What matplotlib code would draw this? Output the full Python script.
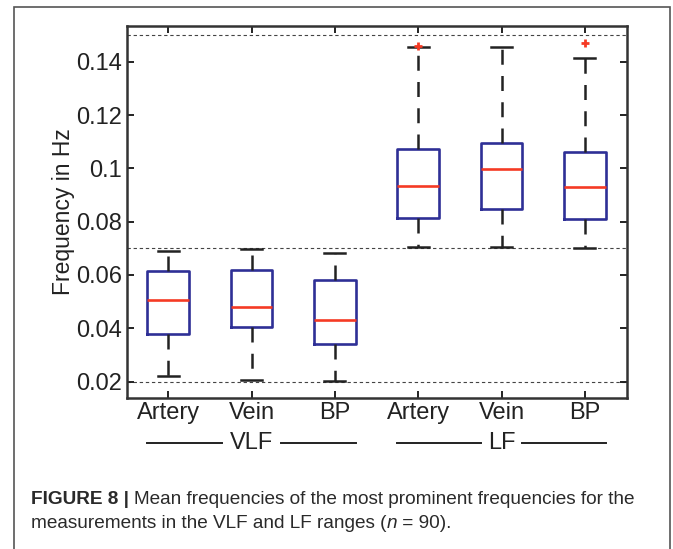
import matplotlib
matplotlib.use("Agg")
import matplotlib.pyplot as plt
import matplotlib.transforms as mtransforms
from matplotlib.patches import Rectangle

# values
labels = ['Artery', 'Vein', 'BP', 'Artery', 'Vein', 'BP']
groups = ['VLF', 'LF']
q1 = [0.0378, 0.0406, 0.0339, 0.0814, 0.0846, 0.0810]
med = [0.0505, 0.0481, 0.0429, 0.0934, 0.0999, 0.0931]
q3 = [0.0616, 0.0620, 0.0580, 0.1073, 0.1094, 0.1061]
whislo = [0.0221, 0.0206, 0.0201, 0.0706, 0.0706, 0.0700]
whishi = [0.0691, 0.0698, 0.0683, 0.1454, 0.1456, 0.1413]
fliers = [[], [], [], [0.1459], [], [0.1469]]
bands = [0.02, 0.07, 0.15]

plt.rcParams['font.family'] = ['Liberation Sans', 'DejaVu Sans']

fig = plt.figure(figsize=(6.73, 5.49), dpi=100)
ax = fig.add_axes([0.188, 0.275, 0.743, 0.6775])

stats = []
for i in range(len(labels)):
    stats.append(dict(med=med[i], q1=q1[i], q3=q3[i], whislo=whislo[i],
                      whishi=whishi[i], fliers=fliers[i], label=labels[i]))

pos = list(range(1, len(labels) + 1))
for y in bands:
    ax.axhline(y, color='#444444', lw=0.8, ls=(0, (3, 2.5)), zorder=1)

ax.bxp(stats, positions=pos, widths=0.5, capwidths=0.25,
       boxprops=dict(color='#2e2f96', lw=1.9),
       medianprops=dict(color='#f53a24', lw=1.9),
       whiskerprops=dict(color='#222222', lw=1.8, ls=(0, (6, 4.5))),
       capprops=dict(color='#222222', lw=1.8),
       flierprops=dict(marker='+', markeredgecolor='#f53a24', markersize=6,
                       markeredgewidth=2, linestyle='none'),
       zorder=3)

ax.set_xlim(0.5, 6.5)
ax.set_ylim(0.0138, 0.1534)
ax.set_yticks([0.02, 0.04, 0.06, 0.08, 0.1, 0.12, 0.14])
ax.set_yticklabels(['0.02', '0.04', '0.06', '0.08', '0.1', '0.12', '0.14'])
ax.set_xticks(pos)
ax.set_xticklabels(labels)
ax.tick_params(direction='in', top=True, right=True, length=5, width=1.4,
               labelsize=17, color='#222222', labelcolor='#222222', pad=3)
for s in ax.spines.values():
    s.set_linewidth(1.8)
    s.set_color('#333333')
ax.set_ylabel('Frequency in Hz', fontsize=16.5, color='#222222', labelpad=1)

# group labels under the tick labels
trans = mtransforms.blended_transform_factory(ax.transData, fig.transFigure)
gy = 1 - 443 / 549
for k, g in enumerate(groups):
    c = 2 + 3 * k
    ax.text(c, gy, g, transform=trans, ha='center', va='center', fontsize=17,
            color='#222222')
    half = 0.3 if len(g) == 3 else 0.2
    ax.plot([c - 1.25, c - half - 0.05], [gy, gy], transform=trans, color='#222222',
            lw=1.4, clip_on=False)
    ax.plot([c + half + 0.05, c + 1.25], [gy, gy], transform=trans, color='#222222',
            lw=1.4, clip_on=False)

# outer frame
fig.patches.append(Rectangle((14 / 673, -0.05), (670 - 14) / 673, 1.05 - 7 / 549,
                             transform=fig.transFigure, fill=False,
                             edgecolor='#555555', lw=1.2))

# caption, condensed face fitted to the reference line width
fig.canvas.draw()
r = fig.canvas.get_renderer()
cap_fam = ['Liberation Sans Narrow', 'Liberation Sans', 'DejaVu Sans']


def put(parts, x, y, size):
    for txt, kw in parts:
        t = fig.text(x / 673, 1 - y / 549, txt, fontsize=size, color='#2a2a2a',
                     va='baseline', family=cap_fam, **kw)
        bb = t.get_window_extent(renderer=r)
        x = bb.x1
    return x


line1 = [('FIGURE 8 | ', dict(fontweight='bold')),
         ('Mean frequencies of the most prominent frequencies for the', {})]
line2 = [('measurements in the VLF and LF ranges (', {}),
         ('n', dict(style='italic')), (' = 90).', {})]

n0 = len(fig.texts)
end = put(line1, 31, -100, 14)
for t in fig.texts[n0:]:
    t.remove()
size = 14 * (639 - 31) / (end - 31)

put(line1, 31, 504, size)
put(line2, 31, 528, size)

fig.savefig('out.png', dpi=100)
